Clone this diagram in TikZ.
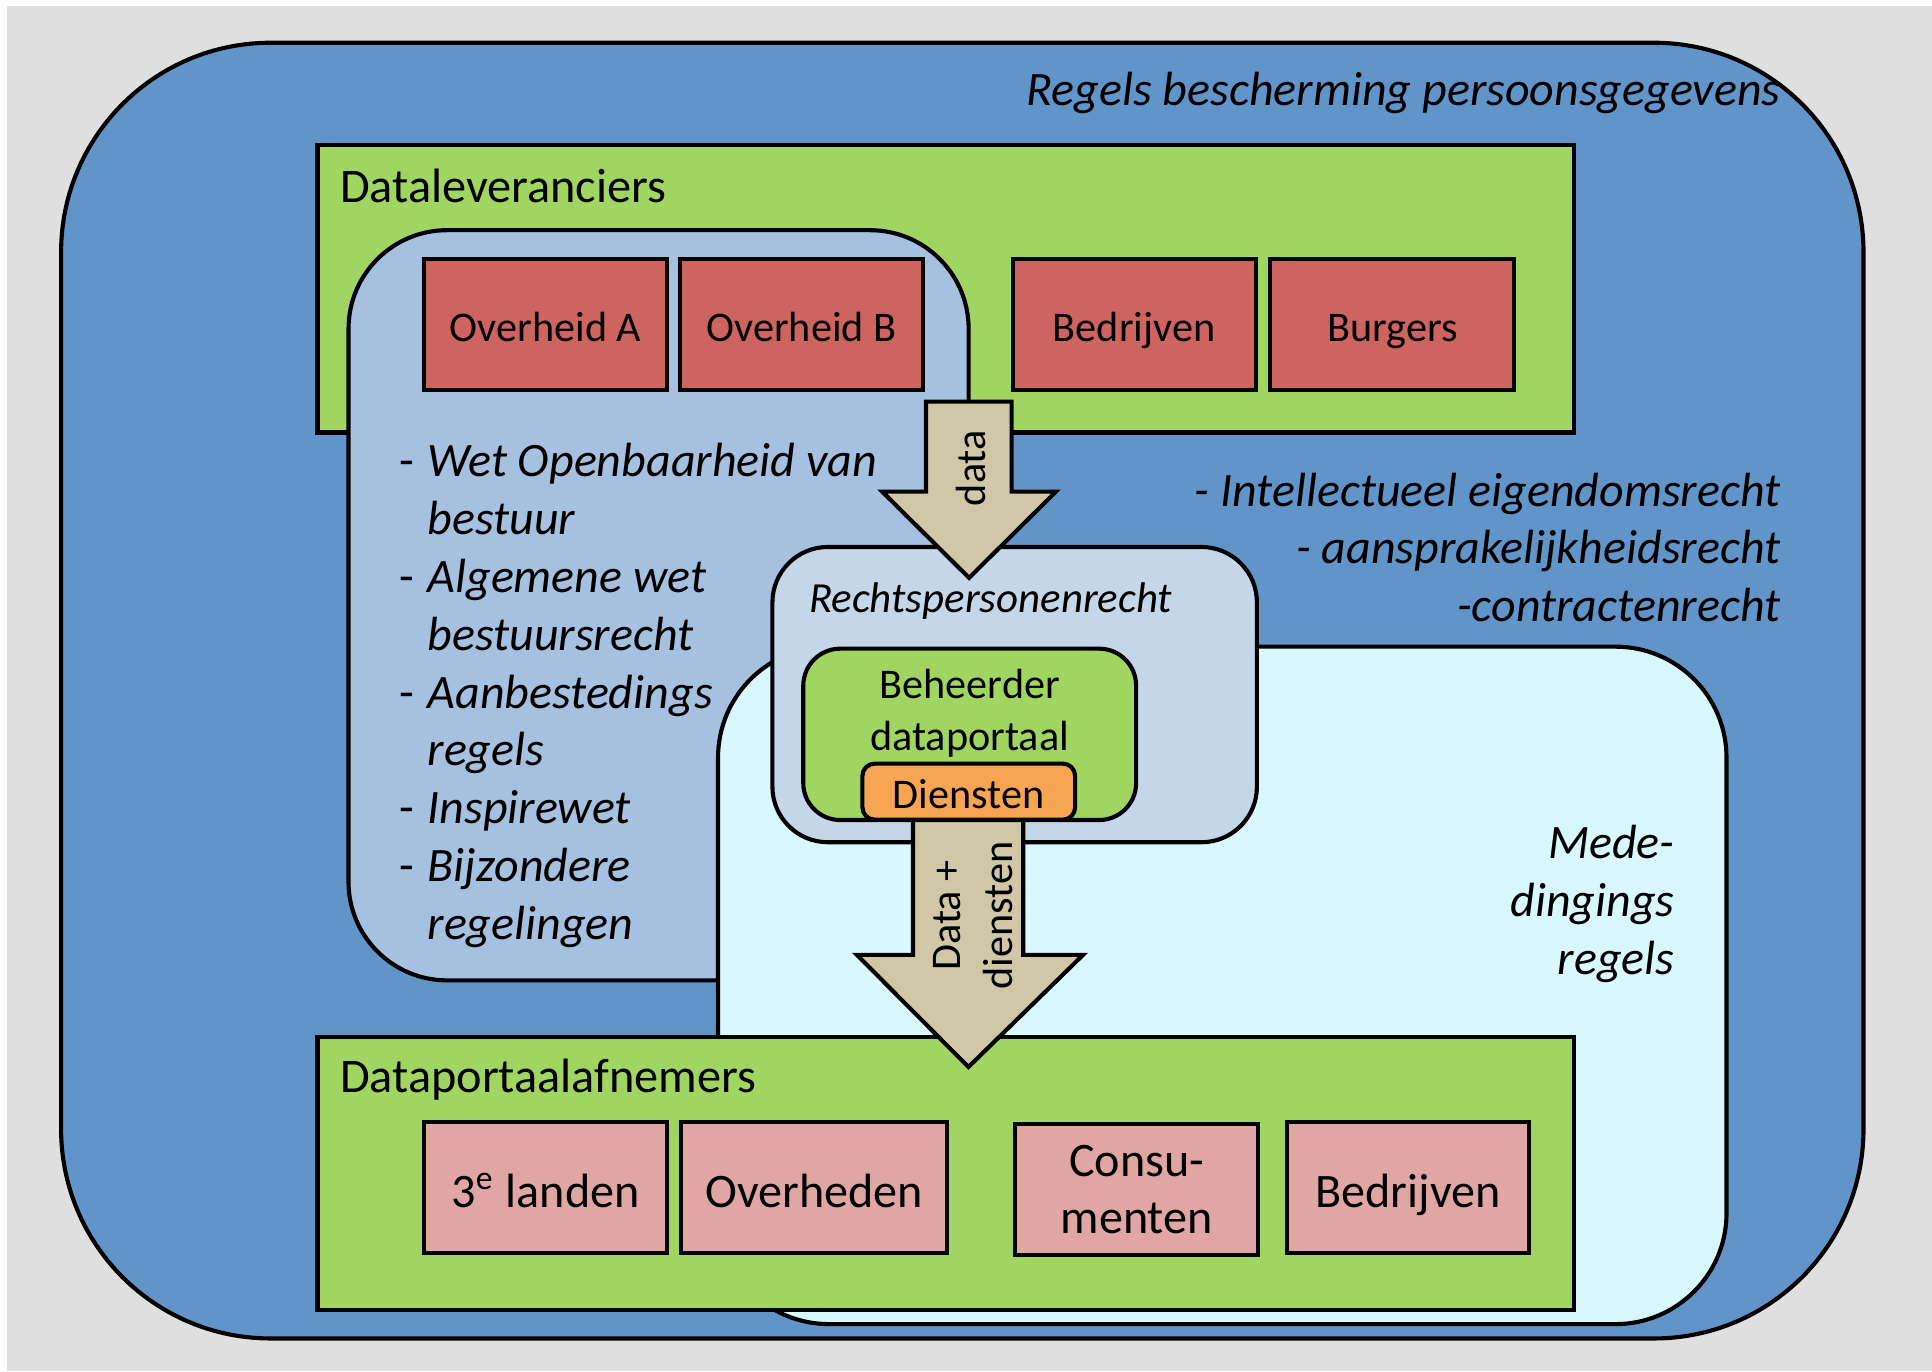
\documentclass[tikz,border=0pt]{standalone}
\usepackage{fontspec}
\setmainfont{Carlito}
\definecolor{bggray}{HTML}{DFDFDF}
\definecolor{outerblue}{HTML}{6194C8}
\definecolor{boxgreen}{HTML}{A1D562}
\definecolor{boxred}{HTML}{CD6460}
\definecolor{boxpink}{HTML}{E0A6A4}
\definecolor{legalblue}{HTML}{A6C1DF}
\definecolor{cyanbox}{HTML}{D8F8FE}
\definecolor{rpblue}{HTML}{C4D7E9}
\definecolor{orangebox}{HTML}{F8A553}
\definecolor{arrowtan}{HTML}{D0C7A6}
\tikzset{
  frame/.style={draw=black, line width=0.95pt, inner sep=0pt, outer sep=0pt, rectangle},
  boxfont/.style={font=\fontsize{9.75}{11.6}\selectfont},
  bigboxfont/.style={font=\fontsize{11.1}{13.1}\selectfont},
  titlefont/.style={font=\fontsize{11.15}{13.3}\selectfont},
  itfont/.style={font=\fontsize{11.08}{13.3}\selectfont\itshape},
  oneline/.style={text height=8.7pt, text depth=1pt},
  bigoneline/.style={text height=9.99pt, text depth=1.11pt},
  redbox/.style={frame, fill=boxred, minimum height=1.065cm, boxfont, oneline},
  pinkbox/.style={frame, fill=boxpink, minimum height=1.06cm, bigboxfont, bigoneline},
  greenpanel/.style={frame, fill=boxgreen},
  blockarrow/.style={draw=black, line width=0.95pt, fill=arrowtan, line join=miter},
  plain/.style={inner sep=0pt, outer sep=0pt}
}
\begin{document}
\begin{tikzpicture}[x=0.01cm, y=-0.01cm]
\useasboundingbox (0,0) rectangle (1568,1113);
% background
\fill[white] (0,0) rectangle (1568,1113);
\fill[bggray] (6,5) rectangle (1568,1113);

% outer region
\node[frame, fill=outerblue, rounded corners=1.7cm, minimum width=14.62cm, minimum height=10.51cm] (outer) at (781,560.5) {};

% top green panel
\node[greenpanel, minimum width=10.19cm, minimum height=2.33cm] (lev) at (767.5,234.5) {};

% legal (government) rules region
\node[frame, fill=legalblue, rounded corners=0.8cm, minimum width=5.03cm, minimum height=6.085cm] (legal) at (534.5,491.25) {};

% competition rules region
\node[frame, fill=cyanbox, rounded corners=0.9cm, minimum width=8.18cm, minimum height=5.495cm] (comp) at (992,799.75) {};

% Rechtspersonenrecht box
\node[frame, fill=rpblue, rounded corners=0.45cm, minimum width=3.93cm, minimum height=2.395cm] (rp) at (823.5,563.75) {};

% red supplier boxes
\node[redbox, minimum width=1.975cm] (ovA) at (442.75,263.25) {Overheid A};
\node[redbox, minimum width=1.97cm] (ovB) at (650.5,263.25) {Overheid B};
\node[redbox, minimum width=1.97cm] (bedr1) at (920.5,263.25) {Bedrijven};
\node[redbox, minimum width=1.98cm] (burg) at (1130,263.25) {Burgers};

% arrow "data"
\draw[blockarrow] (751.5,326) -- (821,326) -- (821,399) -- (857,399) -- (786.5,469) -- (716,399) -- (751.5,399) -- cycle;
\node[plain, boxfont, oneline, rotate=90] (datalbl) at (786.5,380) {data};

% bottom green panel
\node[greenpanel, minimum width=10.19cm, minimum height=2.215cm] (afn) at (767.5,952.25) {};

% pink consumer boxes
\node[pinkbox, minimum width=1.965cm] (land) at (442.75,964) {3\textsuperscript{e} landen};
\node[pinkbox, minimum width=2.156cm] (ovh) at (660.8,964) {Overheden};
\node[frame, fill=boxpink, minimum width=1.97cm, minimum height=1.06cm, align=center, font=\fontsize{11.1}{13.1}\selectfont] (cons) at (922.5,965.5) {Consu-\\menten};
\node[pinkbox, minimum width=1.965cm] (bedr2) at (1142.75,964) {Bedrijven};

% arrow "Data + diensten"
\draw[blockarrow] (741,665) -- (830.5,665) -- (830.5,775) -- (879,775) -- (786,866) -- (695.5,775) -- (741,775) -- cycle;
\node[plain, rotate=90, align=center, font=\fontsize{9.75}{11.95}\selectfont] (dd) at (790,743) {Data +\\diensten};

% Beheerder dataportaal and Diensten
\node[frame, fill=boxgreen, rounded corners=0.3cm, minimum width=2.70cm, minimum height=1.39cm] (beh) at (787,596) {};
\node[frame, fill=orangebox, rounded corners=0.1cm, minimum width=1.725cm, minimum height=0.455cm, boxfont, oneline] (dien) at (786.25,642.5) {Diensten};
\node[plain, boxfont, anchor=base] (beh1) at (787,567) {Beheerder};
\node[plain, boxfont, anchor=base] (beh2) at (787,609) {dataportaal};

% titles and labels
\node[plain, titlefont, anchor=base west] (levtitle) at (276,164) {Dataleveranciers};
\node[plain, titlefont, anchor=base west] (afntitle) at (276,887) {Dataportaalafnemers};
\node[plain, itfont, anchor=base east] (avg) at (1445,86) {Regels bescherming persoonsgegevens};
\node[plain, font=\fontsize{9.9}{11.8}\selectfont\itshape, anchor=base] (rptitle) at (804,497.5) {Rechtspersonenrecht};

\node[plain, anchor=north west, font=\fontsize{11.08}{13.34}\selectfont] (legallist) at (324,354.2) {%
\begin{tabular}{@{}l@{}l@{}}
\makebox[0.23cm][l]{-} & \textit{Wet Openbaarheid van}\\
 & \textit{bestuur}\\
\makebox[0.23cm][l]{-} & \textit{Algemene wet}\\
 & \textit{bestuursrecht}\\
\makebox[0.23cm][l]{-} & \textit{Aanbestedings}\\
 & \textit{regels}\\
\makebox[0.23cm][l]{-} & \textit{Inspirewet}\\
\makebox[0.23cm][l]{-} & \textit{Bijzondere}\\
 & \textit{regelingen}
\end{tabular}};

\node[plain, anchor=north east, font=\fontsize{11.08}{13.17}\selectfont\itshape] (civil) at (1445,379) {%
\begin{tabular}{@{}r@{}}
- Intellectueel eigendomsrecht\\
- aansprakelijkheidsrecht\\
-contractenrecht
\end{tabular}};

\node[plain, anchor=north east, font=\fontsize{11.08}{13.3}\selectfont\itshape] (mede) at (1359,664.3) {%
\begin{tabular}{@{}r@{}}
Mede-\\
dingings\\
regels
\end{tabular}};
\end{tikzpicture}
\end{document}
